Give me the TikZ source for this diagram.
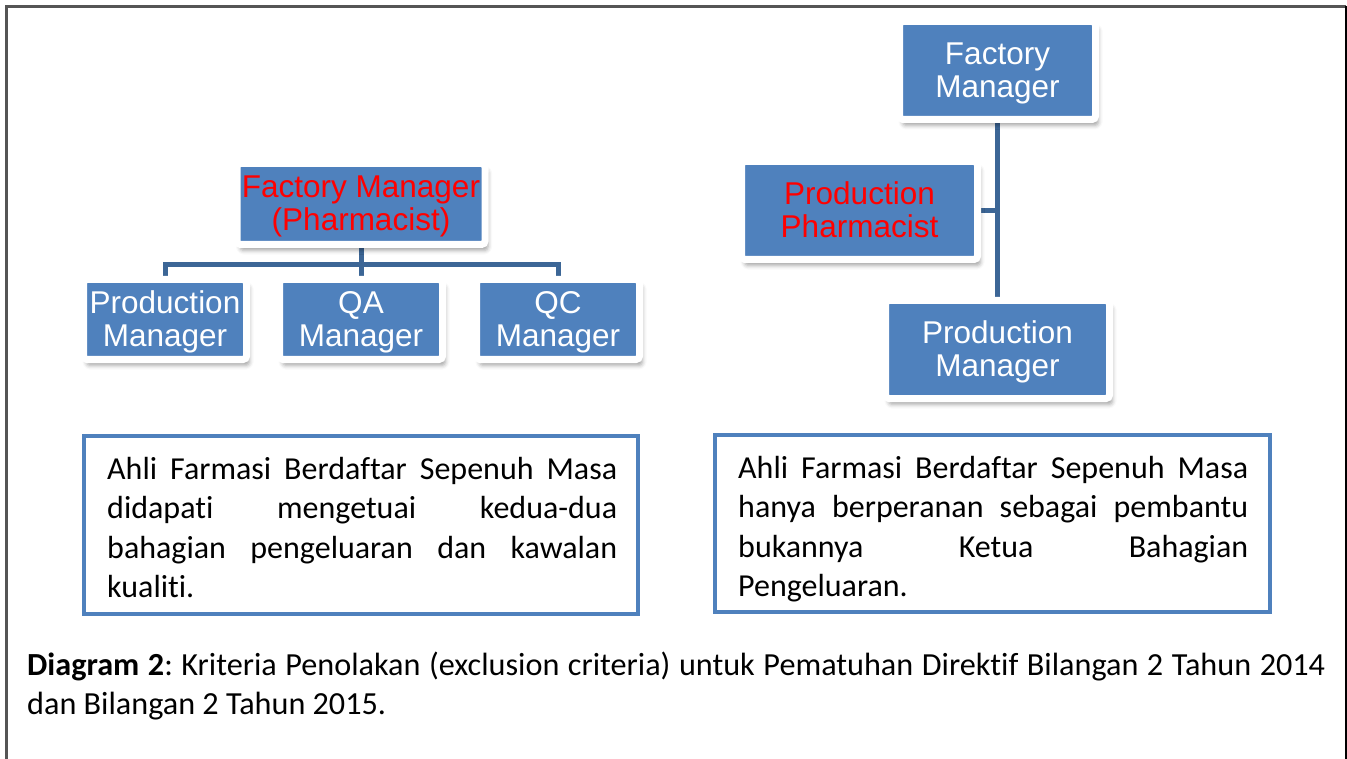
\documentclass[tikz,border=0pt]{standalone}
\usepackage{fontspec}
\setmainfont{Carlito}[Ligatures={NoCommon,NoContextual}]
\newfontfamily\arialf{Liberation Sans}
\usetikzlibrary{shadows.blur,backgrounds}
\definecolor{orgblue}{RGB}{79,129,189}
\definecolor{linkblue}{RGB}{60,102,150}
\definecolor{framegray}{RGB}{85,85,85}
\hbadness=10000
\frenchspacing
\begin{document}
\begin{tikzpicture}[x=1pt,y=-1pt,
  orgbox/.style={rectangle, fill=orgblue, draw=white, line width=7pt,
    rounded corners=3.5pt, inner sep=0pt, align=center, text=white,
    text height=56pt, text depth=2pt,
    font=\arialf\fontsize{31.5}{33}\selectfont,
    blur shadow={shadow xshift=3pt, shadow yshift=-6pt, shadow opacity=35, shadow blur radius=4pt}},
  link/.style={draw=linkblue, line width=5pt},
  textbox/.style={rectangle, draw=orgblue, line width=4pt, inner sep=0pt},
  bodytext/.style={text width=510pt, align=justify, inner sep=0pt,
    font=\fontsize{32}{39.5}\selectfont},
  captext/.style={text width=1298pt, align=justify, inner sep=0pt,
    font=\fontsize{32.2}{39}\selectfont}]
\useasboundingbox (0,0) rectangle (1347,759);

% outer page frame
\draw[framegray, line width=2.5pt] (6.5,759) -- (6.5,6.5) -- (1346,6.5);
\draw[black, line width=1.8pt] (1346.2,6.5) -- (1346.2,759);

% left organisation chart
\node[orgbox, minimum width=248pt, minimum height=81pt, text=red] (lt) at (361,204) {Factory Manager\\(Pharmacist)};
\node[orgbox, minimum width=163pt, minimum height=80pt] (lpm) at (165,319.5) {Production\\Manager};
\node[orgbox, minimum width=163pt, minimum height=80pt] (lqa) at (361,319.5) {QA\\Manager};
\node[orgbox, minimum width=163pt, minimum height=80pt] (lqc) at (558,319.5) {QC\\Manager};
\coordinate (lbus) at (361,265);

% right organisation chart
\node[orgbox, minimum width=196pt, minimum height=98pt] (rf) at (997.5,70.5) {Factory\\Manager};
\node[orgbox, minimum width=236pt, minimum height=98pt, text=red] (rpp) at (859.5,210.5) {Production\\Pharmacist};
\node[orgbox, minimum width=224pt, minimum height=98pt] (rpm) at (997.5,349.5) {Production\\Manager};

\begin{scope}[on background layer]
  \draw[link] (lt.south) -- (lbus);
  \draw[link] (lpm.north) |- (lbus) -| (lqc.north);
  \draw[link] (lbus) -- (lqa.north);
  \draw[link] (rf.south) -- (rpm.north);
  \draw[link] (rpp.east) -- (rpp.east -| rf.south);
\end{scope}

% text boxes
\node[textbox, minimum width=554pt, minimum height=178pt] (lbox) at (361,525) {};
\node[textbox, minimum width=555pt, minimum height=177pt] (rbox) at (992.5,523.5) {};
\node[bodytext, anchor=base west] (ltext) at (107,479) {Ahli Farmasi Berdaftar Sepenuh Masa\linebreak didapati mengetuai kedua-dua\linebreak bahagian pengeluaran dan kawalan\linebreak kualiti.};
\node[bodytext, anchor=base west] (rtext) at (738,478) {Ahli Farmasi Berdaftar Sepenuh Masa\linebreak hanya berperanan sebagai pembantu\linebreak bukannya Ketua Bahagian\linebreak Pengeluaran.};

% caption
\node[captext, anchor=base west] (cap) at (27,675) {\textbf{Diagram 2}: Kriteria Penolakan (exclusion criteria) untuk Pematuhan Direktif Bilangan 2 Tahun 2014\linebreak dan Bilangan 2 Tahun 2015.};
\end{tikzpicture}
\end{document}
